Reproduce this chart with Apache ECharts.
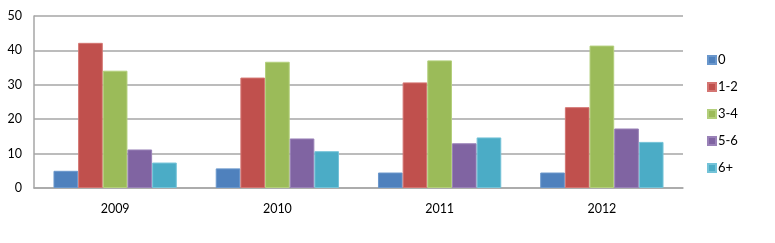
<!DOCTYPE html>
<html><head><meta charset="utf-8">
<script src="https://cdn.jsdelivr.net/npm/echarts@6/dist/echarts.min.js"></script>
<style>html,body{margin:0;padding:0;background:#fff}#c{width:775px;height:243px}</style>
</head><body><div id="c"></div>
<script>
const categories = ['2009', '2010', '2011', '2012'];
const seriesNames = ['0', '1-2', '3-4', '5-6', '6+'];
const s0 = [5.0, 5.7, 4.5, 4.5];
const s12 = [42.2, 32.1, 30.7, 23.5];
const s34 = [34.1, 36.7, 37.1, 41.4];
const s56 = [11.2, 14.4, 13.0, 17.3];
const s6p = [7.4, 10.7, 14.7, 13.4];
const yTicks = [0, 10, 20, 30, 40, 50];
const colors = ['#4F81BD', '#C0504D', '#9BBB59', '#8064A2', '#4BACC6'];
const borders = ['#6a97cc', '#d47572', '#b3cf7c', '#9a82b8', '#74c3d8'];
const values = [s0, s12, s34, s56, s6p];

const chart = echarts.init(document.getElementById('c'));
const font = 'Lato, "Open Sans", sans-serif';
chart.setOption({
  animation: false,
  textStyle: { fontFamily: font },
  grid: { left: 34, right: 92, top: 16, bottom: 55 },
  legend: {
    orient: 'vertical', left: 702, top: 48,
    itemWidth: 8, itemHeight: 8, itemGap: 13,
    icon: 'rect',
    textStyle: { fontSize: 13, lineHeight: 14, color: '#000', fontFamily: font, padding: [0, 0, 0, -3] },
    data: seriesNames
  },
  xAxis: {
    type: 'category', data: categories,
    axisLine: { lineStyle: { color: '#A6A6A6', width: 1.5 } },
    axisTick: { show: false },
    axisLabel: { color: '#000', fontSize: 12.5, margin: 14, fontFamily: font }
  },
  yAxis: {
    type: 'value', min: yTicks[0], max: yTicks[yTicks.length - 1], interval: 10,
    axisLine: { show: true, lineStyle: { color: '#A6A6A6', width: 1.5 } },
    axisTick: { show: false },
    splitLine: { lineStyle: { color: '#A6A6A6', width: 1.5 } },
    axisLabel: { color: '#000', fontSize: 12.5, margin: 12, fontFamily: font }
  },
  series: seriesNames.map((n, i) => ({
    name: n, type: 'bar', data: values[i],
    barGap: '0%', barCategoryGap: '24%',
    itemStyle: { color: colors[i], borderColor: borders[i], borderWidth: 1 }
  }))
});
</script></body></html>
